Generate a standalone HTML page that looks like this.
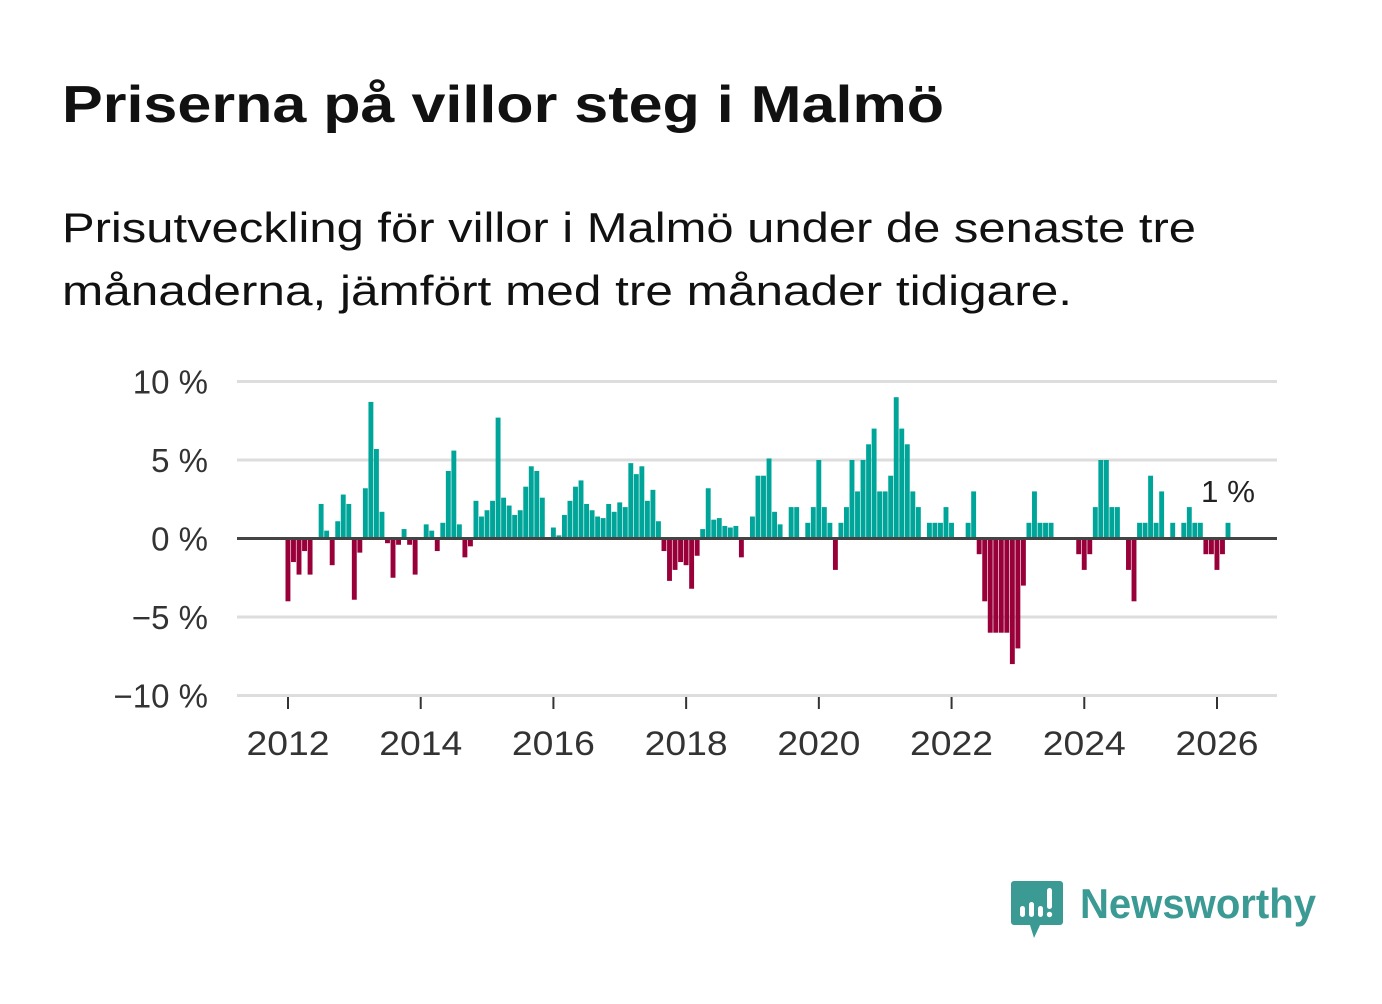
<!DOCTYPE html>
<html><head><meta charset="utf-8">
<style>
html,body{margin:0;padding:0;background:#fff;}
body{width:1382px;height:999px;overflow:hidden;font-family:"Liberation Sans","DejaVu Sans",sans-serif;}
</style></head>
<body>
<svg id="chart" width="1382" height="999" xmlns="http://www.w3.org/2000/svg">
  <text x="62" y="122" font-size="52" font-weight="bold" fill="#111" textLength="882" lengthAdjust="spacingAndGlyphs" font-family="Liberation Sans, sans-serif">Priserna på villor steg i Malmö</text>
  <text x="62" y="242" font-size="42" fill="#111" textLength="1134" lengthAdjust="spacingAndGlyphs" font-family="Liberation Sans, sans-serif">Prisutveckling för villor i Malmö under de senaste tre</text>
  <text x="62" y="305" font-size="42" fill="#111" textLength="1010" lengthAdjust="spacingAndGlyphs" font-family="Liberation Sans, sans-serif">månaderna, jämfört med tre månader tidigare.</text>
  <g id="grid"></g>
  <g id="bars"></g>
  <g id="xaxis"></g>
  <text x="1228" y="502" font-size="31" fill="#222" text-anchor="middle" textLength="54" lengthAdjust="spacingAndGlyphs">1 %</text>
  <g>
    <path d="M1014 881 h46 a3 3 0 0 1 3 3 v38 a3 3 0 0 1 -3 3 h-20 l-6 13 l-4 -13 h-16 a3 3 0 0 1 -3 -3 v-38 a3 3 0 0 1 3 -3z" fill="#3b9a94"/>
    <rect x="1020" y="906" width="5" height="11" rx="2.5" fill="#fff"/>
    <rect x="1029" y="902" width="5" height="15" rx="2.5" fill="#fff"/>
    <rect x="1038" y="906" width="5" height="11" rx="2.5" fill="#fff"/>
    <rect x="1047" y="888" width="5" height="21" rx="2.5" fill="#fff"/>
    <circle cx="1049.5" cy="914.5" r="2.7" fill="#fff"/>
    <text x="1080" y="918" font-size="42" font-weight="bold" fill="#3b9a94" textLength="236" lengthAdjust="spacingAndGlyphs" font-family="Liberation Sans, sans-serif">Newsworthy</text>
  </g>
</svg>
<script>
const yTicks = [10, 5, 0, -5, -10];
const yTickLabels = ["10 %", "5 %", "0 %", "\u22125 %", "\u221210 %"];
const xTickYears = [2012, 2014, 2016, 2018, 2020, 2022, 2024, 2026];
const startYear = 2012;
const values = [
-4.0,-1.5,-2.3,-0.8,-2.3,0,2.2,0.5,-1.7,1.1,2.8,2.2,
-3.9,-0.9,3.2,8.7,5.7,1.7,-0.3,-2.5,-0.4,0.6,-0.4,-2.3,
0,0.9,0.5,-0.8,1.0,4.3,5.6,0.9,-1.2,-0.5,2.4,1.4,
1.8,2.4,7.7,2.6,2.1,1.5,1.8,3.3,4.6,4.3,2.6,0,
0.7,0.2,1.5,2.4,3.3,3.7,2.2,1.8,1.4,1.3,2.2,1.7,
2.3,2.0,4.8,4.1,4.6,2.4,3.1,1.1,-0.8,-2.7,-2.0,-1.5,
-1.7,-3.2,-1.1,0.6,3.2,1.2,1.3,0.8,0.7,0.8,-1.2,0,
1.4,4.0,4.0,5.1,1.7,0.9,0,2,2,0,1,2,
5,2,1,-2,1,2,5,3,5,6,7,3,
3,4,9,7,6,3,2,0,1,1,1,2,
1,0,0,1,3,-1,-4,-6,-6,-6,-6,-8,
-7,-3,1,3,1,1,1,0,0,0,0,-1,
-2,-1,2,5,5,2,2,0,-2,-4,1,1,
4,1,3,0,1,0,1,2,1,1,-1,-1,
-2,-1,1
];
const NS = "http://www.w3.org/2000/svg";
const y = v => 538.5 - v * 15.7;
const x = i => 288 + i * (1217 - 288) / 168;
const gGrid = document.getElementById('grid');
const gBars = document.getElementById('bars');
const gX = document.getElementById('xaxis');
yTicks.forEach((t, k) => {
  const ln = document.createElementNS(NS, 'line');
  
  
  ln.setAttribute('x1', 237); ln.setAttribute('x2', 1277);
  ln.setAttribute('y1', y(t)); ln.setAttribute('y2', y(t));
  ln.setAttribute('stroke', '#dddddd'); ln.setAttribute('stroke-width', 3);
  gGrid.appendChild(ln);
  const tx = document.createElementNS(NS, 'text');
  
  
  tx.setAttribute('x', 208); tx.setAttribute('y', y(t) + 12);
  tx.setAttribute('text-anchor', 'end'); tx.setAttribute('font-size', 33); tx.setAttribute('fill', '#333');
  tx.textContent = yTickLabels[k];
  gGrid.appendChild(tx);
});
values.forEach((v, i) => {
  if (v === 0) return;
  const r = document.createElementNS(NS, 'rect');
  
  
  r.setAttribute('x', x(i) - 2.5); r.setAttribute('width', 4.9);
  r.setAttribute('y', Math.min(y(v), y(0))); r.setAttribute('height', Math.abs(y(v) - y(0)));
  r.setAttribute('fill', v > 0 ? '#00a59a' : '#99003a');
  gBars.appendChild(r);
});
const zl = document.createElementNS(NS, 'line');


zl.setAttribute('x1', 237); zl.setAttribute('x2', 1277);
zl.setAttribute('y1', y(0)); zl.setAttribute('y2', y(0));
zl.setAttribute('stroke', '#444'); zl.setAttribute('stroke-width', 3);
gBars.appendChild(zl);
xTickYears.forEach(yr => {
  const xi = x((yr - startYear) * 12);
  const tk = document.createElementNS(NS, 'line');
  
  
  tk.setAttribute('x1', xi); tk.setAttribute('x2', xi);
  tk.setAttribute('y1', 697); tk.setAttribute('y2', 709);
  tk.setAttribute('stroke', '#333'); tk.setAttribute('stroke-width', 2);
  gX.appendChild(tk);
  const tx = document.createElementNS(NS, 'text');
  
  
  tx.setAttribute('x', xi); tx.setAttribute('y', 755);
  tx.setAttribute('text-anchor', 'middle'); tx.setAttribute('font-size', 34); tx.setAttribute('fill', '#333');
  tx.setAttribute('textLength', 83); tx.setAttribute('lengthAdjust', 'spacingAndGlyphs');
  tx.textContent = yr;
  gX.appendChild(tx);
});
</script>
</body></html>
